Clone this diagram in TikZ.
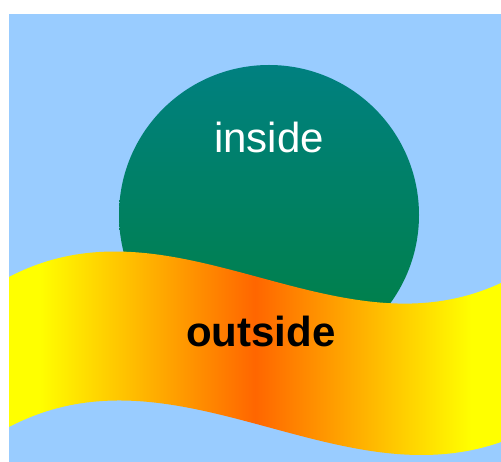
\documentclass[tikz,border=0pt]{standalone}
\usepackage{fontspec}
\setmainfont{Liberation Sans}
\definecolor{bgblue}{RGB}{153,204,255}
\definecolor{topteal}{RGB}{0,128,128}
\definecolor{botgreen}{RGB}{0,128,64}
\pgfdeclarehorizontalshading{bandshade}{100bp}{rgb(0bp)=(1,1,0); rgb(28bp)=(1,1,0); rgb(50bp)=(1,0.4,0); rgb(72bp)=(1,1,0); rgb(100bp)=(1,1,0)}
\begin{document}
\begin{tikzpicture}[x=1pt,y=-1pt,
  lbl/.style={font=\fontsize{42}{50}\selectfont, anchor=base, inner sep=0pt}]
\useasboundingbox (0,0) rectangle (501,462);
\fill[bgblue] (9,14) rectangle (501,462);
\shade[top color=topteal, bottom color=botgreen] (269,215) circle[radius=150];
\node[lbl, text=white] (inside) at (269,153) {inside};
\shade[shading=bandshade]
  (9,277) .. controls (175,190) and (335,360) .. (501,283)
  -- (501,442) .. controls (335,500) and (175,340) .. (9,427) -- cycle;
\node[lbl, text=black, font=\fontsize{42}{50}\selectfont\bfseries] (outside) at (261,347) {outside};
\end{tikzpicture}
\end{document}
